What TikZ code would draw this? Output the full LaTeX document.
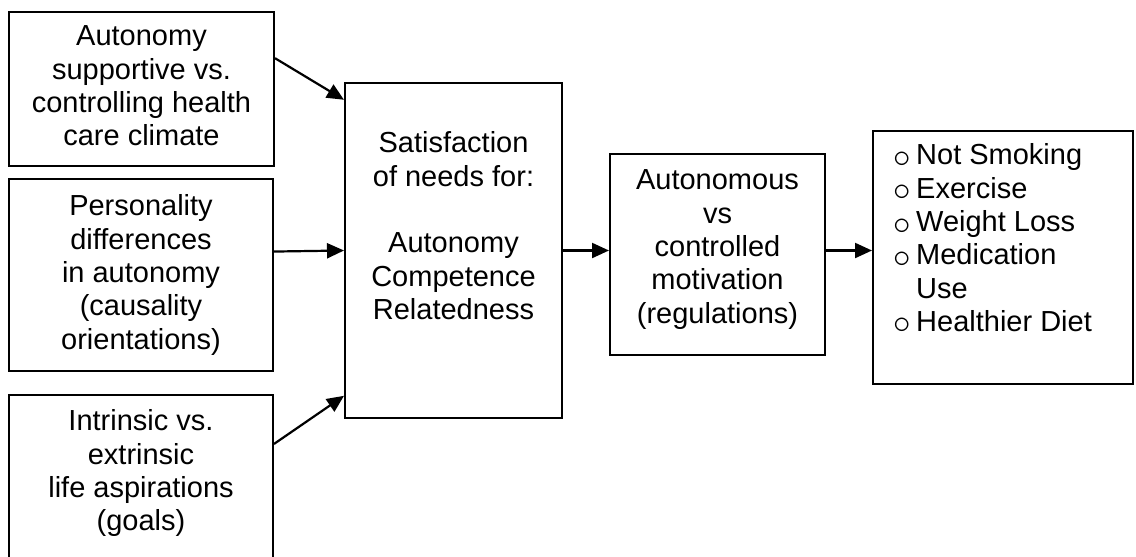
\documentclass[tikz,border=0pt]{standalone}
\usepackage{fontspec}
\setmainfont{Liberation Sans}
\usepackage{graphicx}
\usepackage{tikz}
\usetikzlibrary{arrows.meta}
\newcommand{\bul}{\makebox[23pt][l]{\raisebox{-2.5pt}{\scalebox{1.4}{$\circ$}}}}

\begin{document}
\begin{tikzpicture}[x = 1pt, y = -1pt,
	box/.style = {draw, line width = 2pt, inner sep = 0pt},
	txt/.style = {anchor = north, align = center, inner sep = 0pt, font = \fontsize{29}{33.3}\selectfont, execute at begin node = \strut},
	arr/.style = {line width = 2.2pt, -{Triangle[length = 17pt, width = 15pt]}}]
			\useasboundingbox (0,0) rectangle (1136,557);
			\clip (0,0) rectangle (1136,557);
			% boxes
			\node (clim) at (141.5,89) [box, minimum width = 265pt, minimum height = 154pt] {};
			\node (pers) at (141,275) [box, minimum width = 264pt, minimum height = 192pt] {};
			\node (aspi) at (141,495) [box, minimum width = 264pt, minimum height = 200pt] {};
			\node (sat) at (453.5,250.5) [box, minimum width = 217pt, minimum height = 335pt] {};
			\node (moti) at (717.5,254.5) [box, minimum width = 215pt, minimum height = 201pt] {};
			\node (outc) at (1003,257.5) [box, minimum width = 260pt, minimum height = 253pt] {};
			% texts
			\node (climtxt) at (141.5,25.7) [txt] {Autonomy\\supportive vs.\\controlling health\\care climate};
			\node (perstxt) at (141,194.7) [txt] {Personality\\differences\\in autonomy\\(causality\\orientations)};
			\node (aspitxt) at (141,409.7) [txt] {Intrinsic vs.\\extrinsic\\life aspirations\\(goals)};
			\node (sattxt) at (453.5,131.7) [txt] {Satisfaction\\of needs for:\\[33.3pt]Autonomy\\Competence\\Relatedness};
			\node (motitxt) at (717.5,169.7) [txt] {Autonomous\\vs\\controlled\\motivation\\(regulations)};
			\node (outctxt) at (893,143.7) [txt, anchor = north west, align = left] {\bul Not Smoking\\\bul Exercise\\\bul Weight Loss\\\bul Medication\\\hspace*{23pt}Use\\\bul Healthier Diet};
			% arrows
			\draw [arr] (clim.13.2) -- (sat.126.7);
			\draw [arr] (pers.10.3) -- (sat.west);
			\draw [arr] (aspi.21.9) -- (sat.233.1);
			\draw [arr] (sat.east) -- (sat.east -| moti.west);
			\draw [arr] (moti.east |- sat.east) -- (sat.east -| outc.west);
\end{tikzpicture}
\end{document}
